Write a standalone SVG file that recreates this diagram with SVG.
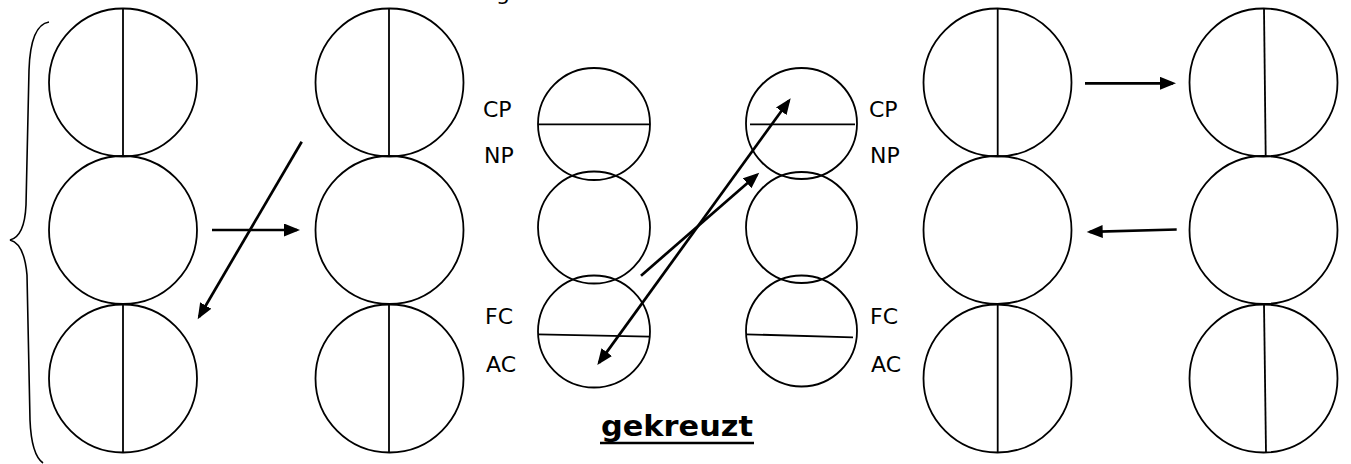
<svg xmlns="http://www.w3.org/2000/svg" width="1351" height="464" viewBox="0 0 1351 464">
  <style>
    .ring { fill: none; stroke: #000; stroke-width: 1.8; }
    .split { stroke: #000; stroke-width: 1.8; fill: none; }
    .brace { fill: none; stroke: #000; stroke-width: 1.6; }
    .conn { stroke: #000; stroke-width: 2.7; fill: none; }
    .lbl { font-family: "Comic Sans MS", "DejaVu Sans", sans-serif; font-size: 22px; fill: #000; }
    .title { font-family: "Comic Sans MS", "DejaVu Sans", sans-serif; font-size: 29px; font-weight: bold; fill: #000; }
  </style>
  <defs>
    <marker id="head" markerUnits="userSpaceOnUse" markerWidth="17" markerHeight="14" refX="13" refY="6.5" orient="auto-start-reverse">
      <path d="M0,0 L16,6.5 L0,13 z" fill="#000"/>
    </marker>
  </defs>

  <rect width="1351" height="464" fill="#fff"/>

  <!-- heading above the frame, only its descender falls inside -->
  <text class="lbl" x="496" y="0" font-size="26">g</text>

  <!-- left brace -->
  <path class="brace" d="M49,22 C36,24 30,40 29,70 L26,205 C25,228 18,238 10,240 C18,242 25,252 27,275 L30,420 C31,445 36,458 43,463"/>

  <!-- column 1 -->
  <g id="c1-top"><circle class="ring" cx="123" cy="82.5" r="74"/><line class="split" x1="123" y1="9" x2="123" y2="156"/></g>
  <g id="c1-mid"><circle class="ring" cx="123" cy="230" r="74"/></g>
  <g id="c1-bot"><circle class="ring" cx="123" cy="378.5" r="74"/><line class="split" x1="123" y1="304" x2="123" y2="453"/></g>

  <!-- column 2 -->
  <g id="c2-top"><circle class="ring" cx="389.5" cy="82.5" r="74"/><line class="split" x1="389" y1="9" x2="389" y2="156"/></g>
  <g id="c2-mid"><circle class="ring" cx="389.5" cy="230" r="74"/></g>
  <g id="c2-bot"><circle class="ring" cx="389.5" cy="378.5" r="74"/><line class="split" x1="389" y1="304" x2="389" y2="453"/></g>

  <!-- column 3 (small, labelled left) -->
  <g id="c3-top"><circle class="ring" cx="594" cy="124" r="56"/><line class="split" x1="538" y1="124.3" x2="650" y2="124.3"/></g>
  <g id="c3-mid"><circle class="ring" cx="594" cy="227.5" r="56"/></g>
  <g id="c3-bot"><circle class="ring" cx="594" cy="331.5" r="56"/><line class="split" x1="538" y1="334.3" x2="650" y2="336.7"/></g>

  <!-- column 4 (small, labelled right) -->
  <g id="c4-top"><circle class="ring" cx="801.5" cy="123.5" r="55.5"/><line class="split" x1="750" y1="124.3" x2="855" y2="124.3"/></g>
  <g id="c4-mid"><circle class="ring" cx="801.5" cy="227.5" r="55.5"/></g>
  <g id="c4-bot"><circle class="ring" cx="801.5" cy="331" r="55.5"/><line class="split" x1="746" y1="334.3" x2="853" y2="337.3"/></g>

  <!-- column 5 -->
  <g id="c5-top"><circle class="ring" cx="997.5" cy="82.5" r="74"/><line class="split" x1="997.7" y1="9" x2="997.7" y2="156"/></g>
  <g id="c5-mid"><circle class="ring" cx="997.5" cy="230" r="74"/></g>
  <g id="c5-bot"><circle class="ring" cx="997.5" cy="378.5" r="74"/><line class="split" x1="997.7" y1="304" x2="997.7" y2="453"/></g>

  <!-- column 6 -->
  <g id="c6-top"><circle class="ring" cx="1263.5" cy="82.5" r="74"/><line class="split" x1="1264" y1="9" x2="1265.7" y2="156"/></g>
  <g id="c6-mid"><circle class="ring" cx="1263.5" cy="230" r="74"/></g>
  <g id="c6-bot"><circle class="ring" cx="1263.5" cy="378.5" r="74"/><line class="split" x1="1264" y1="304" x2="1266" y2="453"/></g>

  <!-- labels -->
  <g id="labels-left">
    <text class="lbl" x="483" y="117">CP</text>
    <text class="lbl" x="484" y="163">NP</text>
    <text class="lbl" x="485" y="324">FC</text>
    <text class="lbl" x="486" y="372">AC</text>
  </g>
  <g id="labels-right">
    <text class="lbl" x="869" y="117">CP</text>
    <text class="lbl" x="870" y="163">NP</text>
    <text class="lbl" x="870" y="324">FC</text>
    <text class="lbl" x="871" y="372">AC</text>
  </g>
  <g id="caption">
    <text class="title" x="601" y="436" textLength="152" lengthAdjust="spacingAndGlyphs">gekreuzt</text>
    <line x1="600" y1="443" x2="754" y2="443" stroke="#000" stroke-width="2.6"/>
  </g>

  <!-- connectors -->
  <g id="connectors">
    <line class="conn" x1="212" y1="230" x2="297" y2="230" marker-end="url(#head)"/>
    <line class="conn" x1="301.7" y1="141.7" x2="199.2" y2="316.7" marker-end="url(#head)"/>
    <line class="conn" x1="641" y1="275.7" x2="757" y2="174.7" marker-end="url(#head)"/>
    <line class="conn" x1="599.1" y1="362.6" x2="788.9" y2="100.7" marker-start="url(#head)" marker-end="url(#head)"/>
    <line class="conn" x1="1085" y1="83.3" x2="1173" y2="83.3" marker-end="url(#head)"/>
    <line class="conn" x1="1176.7" y1="229.5" x2="1089.7" y2="231.9" marker-end="url(#head)"/>
  </g>
</svg>
